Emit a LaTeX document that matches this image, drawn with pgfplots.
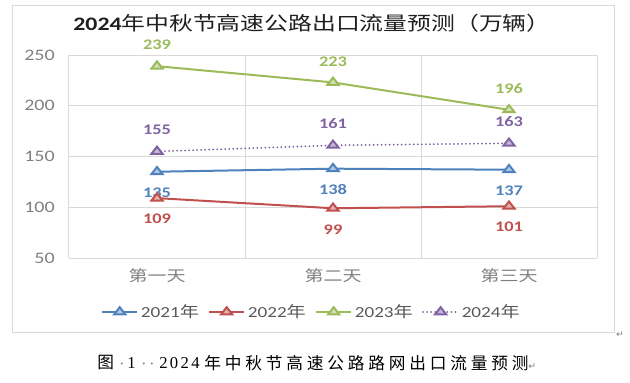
\documentclass[border=0pt]{standalone}
\usepackage{pgfplots}
\pgfplotsset{compat=1.18}
\usepackage{fontspec}
\setmainfont{Carlito}[FakeStretch=1.25]
\newfontfamily\cjk{Noto Sans CJK SC}[FakeStretch=1.25]
\newfontfamily\capcjk{Noto Sans CJK SC}[LetterSpace=23]
\newfontfamily\capserif{Liberation Serif}[LetterSpace=14]
\newfontfamily\sym{DejaVu Sans}
\definecolor{cA}{HTML}{4F81BD}
\definecolor{cB}{HTML}{C0504D}
\definecolor{cC}{HTML}{9BBB59}
\definecolor{cD}{HTML}{8064A2}
\definecolor{gridgray}{HTML}{D9D9D9}
\definecolor{tickgray}{HTML}{7F7F7F}
\definecolor{leggray}{HTML}{595959}
\pgfplotsset{/pgf/number format/assume math mode=true}
\begin{document}
\begin{tikzpicture}[x=0.75pt,y=0.75pt]
\useasboundingbox (0,0) rectangle (630,-382);
\draw[gridgray, line width=0.75pt] (12,-5) rectangle (614,-332);
\node[anchor=center, text=black!88, font=\fontsize{14.3}{16}\selectfont] at (312,-23)
  {\textbf{2024}{\cjk 年中秋节高速公路出口流量预测（万辆）}};
\begin{axis}[
  at={(51.75pt,-193.5pt)}, anchor=south west,
  scale only axis, width=396pt, height=152.25pt,
  xmin=-0.5, xmax=2.5, ymin=50, ymax=250,
  ytick={50,100,150,200,250},
  xtick={0,1,2},
  xticklabels={{\cjk 第一天},{\cjk 第二天},{\cjk 第三天}},
  extra x ticks={-0.5,0.5,1.5,2.5},
  extra x tick labels={},
  extra x tick style={grid=major},
  ymajorgrids,
  grid style={gridgray, line width=0.75pt},
  axis line style={draw=none},
  major tick length=0pt,
  yticklabel style={inner sep=0pt, anchor=east, xshift=-10.5pt, text=tickgray, font=\fontsize{12}{12}\selectfont},
  xticklabel style={inner sep=0pt, anchor=north, yshift=-7.5pt, text=tickgray, font=\fontsize{11.4}{12}\selectfont},
  clip=false,
  legend columns=4,
  legend style={draw=none, fill=none, at={(axis description cs:0.46,-0.266)}, anchor=center,
    font=\fontsize{11.5}{12}\selectfont, text=leggray,
    /tikz/every even column/.append style={column sep=5pt}},
  legend image code/.code={\draw[mark repeat=2,mark phase=2,#1] plot coordinates {(0pt,0pt) (13.1pt,0pt) (26.2pt,0pt)};},
  every axis plot/.append style={line width=1.5pt},
  nodes near coords,
  every node near coord/.append style={font=\fontsize{11}{12}\selectfont\bfseries, anchor=center},
]
\addplot[cA, mark=triangle*, mark size=3.6pt, mark options={solid, fill=cA!45!white, draw=cA, line width=1.5pt, xscale=1.35},
  nodes near coords style={yshift=-15.75pt, text=cA}]
  coordinates {(0,135) (1,138) (2,137)};
\addlegendentry{2021{\cjk 年}}
\addplot[cB, mark=triangle*, mark size=3.6pt, mark options={solid, fill=cB!45!white, draw=cB, line width=1.5pt, xscale=1.35},
  nodes near coords style={yshift=-15.75pt, text=cB}]
  coordinates {(0,109) (1,99) (2,101)};
\addlegendentry{2022{\cjk 年}}
\addplot[cC, mark=triangle*, mark size=3.6pt, mark options={solid, fill=cC!45!white, draw=cC, line width=1.5pt, xscale=1.35},
  nodes near coords style={yshift=15.75pt, text=cC}]
  coordinates {(0,239) (1,223) (2,196)};
\addlegendentry{2023{\cjk 年}}
\addplot[cD, dash pattern=on 0.01pt off 3pt, line cap=round, mark=triangle*, mark size=3.6pt, mark options={solid, fill=cD!45!white, draw=cD, line width=1.5pt, xscale=1.35},
  nodes near coords style={yshift=16.5pt, text=cD}]
  coordinates {(0,155) (1,161) (2,163)};
\addlegendentry{2024{\cjk 年}}
\end{axis}
\node[anchor=center, text=gray, font=\sym\fontsize{7}{8}\selectfont] at (620,-335) {↵};
\begin{scope}[every node/.style={inner sep=0pt, font=\fontsize{12.5}{14}\selectfont}]
\node[anchor=west] at (97,-363) {\capcjk 图};
\node[text=gray, anchor=base] at (122,-369) {\capserif ·};
\node[anchor=west] at (127,-363) {\capserif 1};
\node[text=gray, anchor=base] at (144,-369) {\capserif ·};
\node[text=gray, anchor=base] at (152,-369) {\capserif ·};
\node[anchor=west] at (159,-363) {\capserif 2024};
\node[anchor=west] at (204,-363) {{\capcjk 年中秋节高速公路路网出口流量预测}{\color{gray}\sym\fontsize{7}{8}\selectfont ↵}};
\end{scope}
\end{tikzpicture}
\end{document}
